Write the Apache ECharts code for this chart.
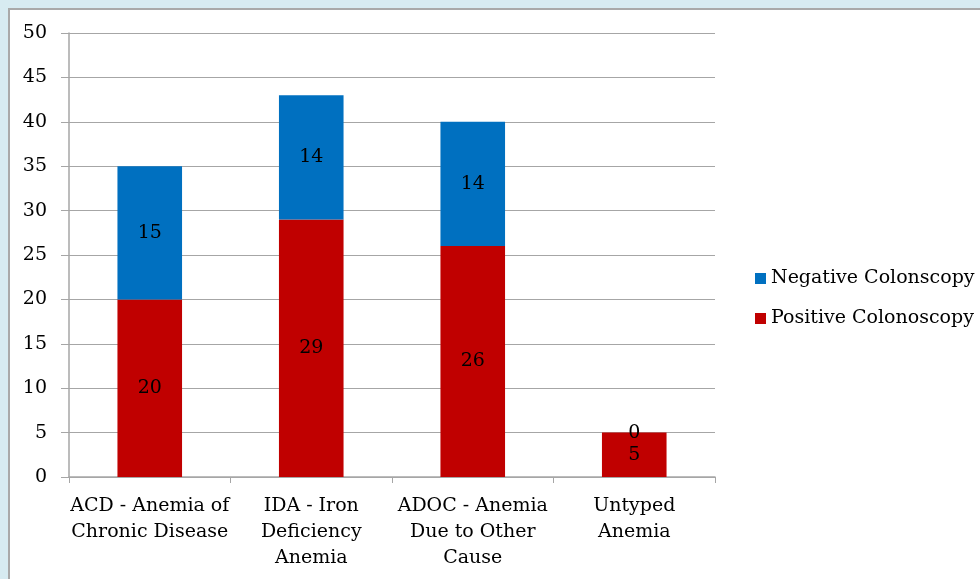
<!DOCTYPE html>
<html>
<head>
<meta charset="utf-8">
<script src="https://cdn.jsdelivr.net/npm/echarts@6/dist/echarts.min.js"></script>
<style>
  html, body { margin: 0; padding: 0; width: 980px; height: 579px; overflow: hidden; background: #d7ebf1; }
  #panel { position: absolute; left: 8px; top: 8px; right: 0; bottom: 0; background: #fff;
           border-left: 2px solid #a9a9a9; border-top: 2px solid #a9a9a9; }
  #chart { position: absolute; left: 0; top: 0; width: 980px; height: 579px; }
</style>
</head>
<body>
<div id="panel"></div>
<div id="chart"></div>
<script>
const categories = [
  'ACD - Anemia of\nChronic Disease',
  'IDA - Iron\nDeficiency\nAnemia',
  'ADOC - Anemia\nDue to Other\nCause',
  'Untyped\nAnemia'
];
const positiveValues = [20, 29, 26, 5];
const negativeValues = [15, 14, 14, 0];
const seriesNames = ['Negative Colonscopy', 'Positive Colonoscopy'];

const FONT = 'DejaVu Serif';
const chart = echarts.init(document.getElementById('chart'), null, { renderer: 'canvas' });

const labelStyle = {
  show: true,
  position: 'inside',
  color: '#000',
  fontFamily: FONT,
  fontSize: 19
};

chart.setOption({
  backgroundColor: 'transparent',
  animation: false,
  textStyle: { fontFamily: FONT },
  grid: { left: 69, right: 265, top: 33, bottom: 102 },
  legend: {
    orient: 'vertical',
    left: 750,
    top: 264,
    icon: 'rect',
    itemWidth: 11,
    itemHeight: 11,
    itemGap: 21,
    data: seriesNames,
    textStyle: { fontFamily: FONT, fontSize: 19, color: '#000' }
  },
  xAxis: {
    type: 'category',
    data: categories,
    axisLine: { lineStyle: { color: '#a6a6a6', width: 1.5 } },
    axisTick: { show: true, length: 6, alignWithLabel: false, lineStyle: { color: '#a6a6a6' } },
    axisLabel: { color: '#000', fontFamily: FONT, fontSize: 19, lineHeight: 26, margin: 16, interval: 0 }
  },
  yAxis: {
    type: 'value',
    min: 0,
    max: 50,
    interval: 5,
    axisLine: { show: true, lineStyle: { color: '#a6a6a6', width: 1.5 } },
    axisTick: { show: true, length: 8, lineStyle: { color: '#a6a6a6' } },
    axisLabel: { color: '#000', fontFamily: FONT, fontSize: 19, margin: 22 },
    splitLine: { show: true, lineStyle: { color: '#a6a6a6', width: 1 } }
  },
  series: [
    {
      name: seriesNames[1],
      type: 'bar',
      stack: 'total',
      barWidth: '40%',
      itemStyle: { color: '#c00000' },
      label: labelStyle,
      data: positiveValues
    },
    {
      name: seriesNames[0],
      type: 'bar',
      stack: 'total',
      barWidth: '40%',
      itemStyle: { color: '#0070c0' },
      label: labelStyle,
      data: negativeValues
    }
  ]
});
</script>
</body>
</html>
